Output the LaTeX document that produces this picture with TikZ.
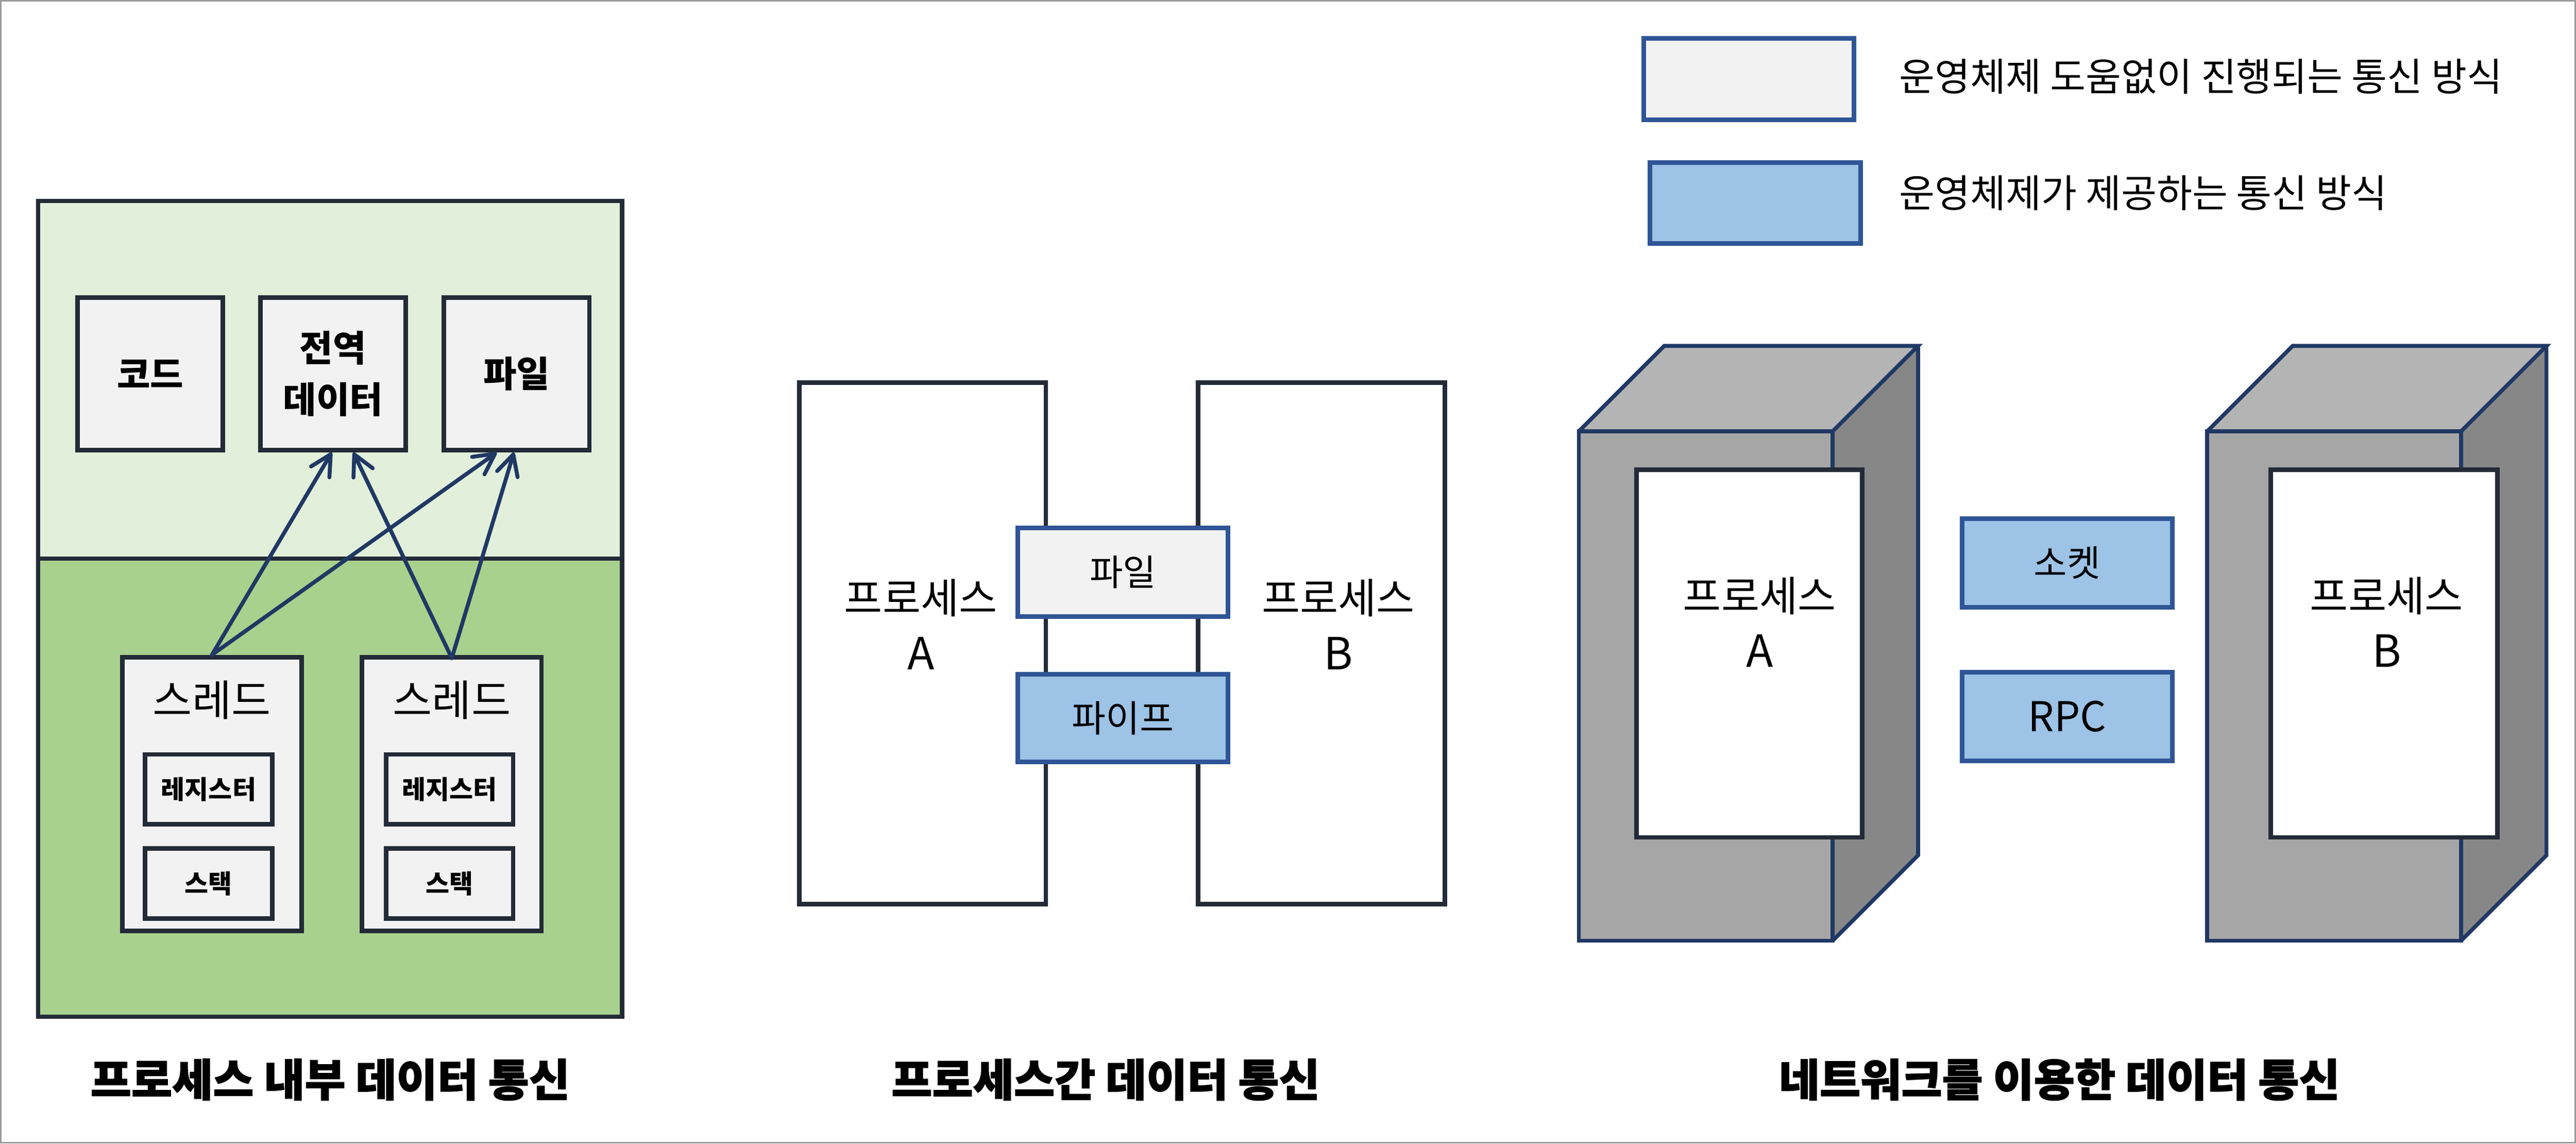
\documentclass[tikz,border=0pt]{standalone}
\usepackage{fontspec}
\setmainfont{Noto Sans CJK KR}
\newfontfamily\titlefont[BoldFeatures={FakeBold=1.6}]{Noto Sans CJK KR}
\usetikzlibrary{arrows.meta,calc}
\definecolor{dk}{HTML}{232B37}
\definecolor{navy}{HTML}{203864}
\definecolor{bl}{HTML}{2F5597}
\definecolor{lblue}{HTML}{9DC3E6}
\definecolor{lgray}{HTML}{F2F2F2}
\definecolor{lgreen}{HTML}{E2EFDA}
\definecolor{mgreen}{HTML}{A9D18E}
\definecolor{gtop}{HTML}{B4B4B4}
\definecolor{gfront}{HTML}{A6A6A6}
\definecolor{gside}{HTML}{878787}
\definecolor{frame}{HTML}{9A9A9A}
\tikzset{
  fs/.style n args={2}{font=\fontsize{#1}{#2}\selectfont},
  graybox/.style={draw=dk, line width=2.8pt, fill=lgray, inner sep=0pt, align=center},
  osbox/.style={draw=bl, line width=2.8pt, fill=lblue, inner sep=0pt, align=center},
  nosbox/.style={draw=bl, line width=2.8pt, fill=lgray, inner sep=0pt, align=center},
  procbox/.style={draw=dk, line width=2.8pt, fill=white, inner sep=0pt},
  arr/.style={draw=navy, line width=2.4pt, line cap=round, -{Straight Barb[length=12.5pt, width=13pt, round]}},
  cube/.style={draw=navy, line width=2.4pt, line join=miter},
  lbl/.style={inner sep=0pt, align=center},
  ttl/.style={inner sep=0pt, font=\titlefont\bfseries\fontsize{27}{30}\selectfont},
}
\begin{document}
\begin{tikzpicture}[x=1pt, y=-1pt]
\useasboundingbox (0,0) rectangle (1568,696);
\fill[white] (0,0) rectangle (1568,696);
\draw[frame, line width=1pt] (0.5,0.5) rectangle (1567.5,695.5);

% ---------- left: inside a process ----------
\fill[lgreen] (23.3,122.3) rectangle (378.7,340);
\fill[mgreen] (23.3,340) rectangle (378.7,618.7);
\draw[dk, line width=2.6pt] (23.3,340) -- (378.7,340);
\draw[dk, line width=2.6pt] (23.3,122.3) rectangle (378.7,618.7);

\node[graybox, minimum width=88.5pt, minimum height=93pt, fs={22}{31.5}] (code) at (91.5,227.5) {\bfseries 코드};
\node[graybox, minimum width=88.5pt, minimum height=93pt, fs={22}{31.5}] (global) at (202.75,227.5) {\bfseries 전역\\\bfseries 데이터};
\node[graybox, minimum width=88.5pt, minimum height=93pt, fs={22}{31.5}] (file1) at (314.5,227.5) {\bfseries 파일};

\node[graybox, minimum width=109.2pt, minimum height=166.7pt] (thread1) at (129,483.25) {};
\node[graybox, minimum width=109.2pt, minimum height=166.7pt] (thread2) at (275,483.25) {};
\node[lbl, fs={26}{28}] (t1lab) at (129,426) {스레드};
\node[lbl, fs={26}{28}] (t2lab) at (275,426) {스레드};
\node[graybox, minimum width=77.2pt, minimum height=42.5pt, fs={15.7}{18}] (reg1) at (127,480.35) {\bfseries 레지스터};
\node[graybox, minimum width=77.2pt, minimum height=42.5pt, fs={15.7}{18}] (stack1) at (127,537.6) {\bfseries 스택};
\node[graybox, minimum width=77.2pt, minimum height=42.5pt, fs={15.7}{18}] (reg2) at (273.75,480.35) {\bfseries 레지스터};
\node[graybox, minimum width=77.2pt, minimum height=42.5pt, fs={15.7}{18}] (stack2) at (273.75,537.6) {\bfseries 스택};

\draw[arr] (thread1.north) -- ($(global.south)+(-0.85,0)$);
\draw[arr] (thread1.north) -- ($(file1.south)+(-12.2,0)$);
\draw[arr] ($(thread2.north)+(0,2)$) -- ($(global.south)+(12.35,0)$);
\draw[arr] ($(thread2.north)+(0,2)$) -- ($(file1.south)+(-1.7,0)$);

\node[ttl] (title1) at (201,657) {프로세스 내부 데이터 통신};

% ---------- middle: between processes ----------
\node[procbox, minimum width=150.2pt, minimum height=317.4pt] (procA) at (561.5,391.6) {};
\node[procbox, minimum width=150.2pt, minimum height=317.4pt] (procB) at (804.5,391.6) {};
\node[nosbox, minimum width=128.2pt, minimum height=53.8pt, fs={22}{24}] (file2) at (683.5,348.3) {파일};
\node[osbox, minimum width=128.2pt, minimum height=53.4pt, fs={22.5}{24}] (pipe) at (683.5,436.9) {파이프};
\node[lbl, fs={25.3}{34}] (labA) at (560.5,380) {프로세스\\{\fontsize{27}{34}\selectfont A}};
\node[lbl, fs={25.3}{34}] (labB) at (814.6,380) {프로세스\\{\fontsize{27}{34}\selectfont B}};

\node[ttl] (title2) at (673,657) {프로세스간 데이터 통신};

% ---------- right: over network ----------
\fill[gfront] (961,262.5) rectangle (1115.5,572.5);
\fill[gtop] (961,262.5) -- (1013,210.5) -- (1167.5,210.5) -- (1115.5,262.5) -- cycle;
\fill[gside] (1115.5,262.5) -- (1167.5,210.5) -- (1167.5,520.5) -- (1115.5,572.5) -- cycle;
\draw[cube] (961,262.5) rectangle (1115.5,572.5);
\draw[cube] (961,262.5) -- (1013,210.5) -- (1167.5,210.5) -- (1115.5,262.5);
\draw[cube] (1167.5,210.5) -- (1167.5,520.5) -- (1115.5,572.5);

\fill[gfront] (1343.5,262.5) rectangle (1498,572.5);
\fill[gtop] (1343.5,262.5) -- (1395.5,210.5) -- (1550,210.5) -- (1498,262.5) -- cycle;
\fill[gside] (1498,262.5) -- (1550,210.5) -- (1550,520.5) -- (1498,572.5) -- cycle;
\draw[cube] (1343.5,262.5) rectangle (1498,572.5);
\draw[cube] (1343.5,262.5) -- (1395.5,210.5) -- (1550,210.5) -- (1498,262.5);
\draw[cube] (1550,210.5) -- (1550,520.5) -- (1498,572.5);

\node[procbox, minimum width=137.5pt, minimum height=223.7pt] (netA) at (1064.85,397.75) {};
\node[procbox, minimum width=138pt, minimum height=223.7pt] (netB) at (1451.15,397.75) {};
\node[lbl, fs={25.3}{34}] (nlabA) at (1071,378.6) {프로세스\\{\fontsize{27}{34}\selectfont A}};
\node[lbl, fs={25.3}{34}] (nlabB) at (1452.7,378.6) {프로세스\\{\fontsize{27}{34}\selectfont B}};
\node[osbox, minimum width=127.8pt, minimum height=54pt, fs={22}{24}] (socket) at (1258.3,342.6) {소켓};
\node[osbox, minimum width=127.8pt, minimum height=54pt, fs={25}{27}] (rpc) at (1258.3,436.1) {RPC};

\node[ttl] (title3) at (1253.5,657) {네트워크를 이용한 데이터 통신};

% ---------- legend ----------
\node[nosbox, minimum width=128.2pt, minimum height=49.4pt] (leg1) at (1064.5,48.1) {};
\node[osbox, minimum width=128.2pt, minimum height=49.4pt] (leg2) at (1068.5,123.6) {};
\node[lbl, anchor=west, fs={23.5}{25}] (leg1t) at (1156,46.5) {운영체제 도움없이 진행되는 통신 방식};
\node[lbl, anchor=west, fs={23.5}{25}] (leg2t) at (1156,117.5) {운영체제가 제공하는 통신 방식};
\end{tikzpicture}
\end{document}
